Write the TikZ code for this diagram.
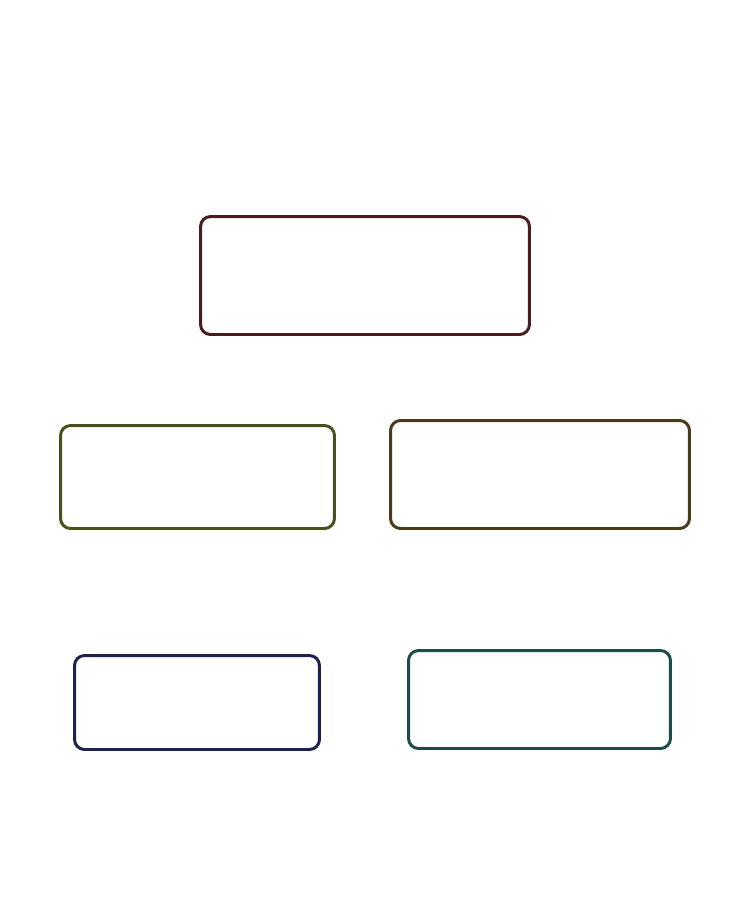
\documentclass[tikz,border=0pt]{standalone}
\usepackage{tikz}
\usetikzlibrary{positioning}
\definecolor{topred}{HTML}{4A1C1E}
\definecolor{midolive}{HTML}{4A4F1C}
\definecolor{midbrown}{HTML}{4A3A1C}
\definecolor{lownavy}{HTML}{1E2050}
\definecolor{lowteal}{HTML}{1E4D46}
\tikzset{
  box/.style={draw, rounded corners=0.2cm, line width=1.7pt, inner sep=0pt}
}

\begin{document}
\begin{tikzpicture}[x=0.02cm,y=-0.02cm]
\useasboundingbox (0,0) rectangle (750,920);
\draw(365,275.5) node[box, topred, minimum width=6.58cm, minimum height=2.36cm] (top) {};

\draw(197.5,477) node[box, midolive, minimum width=5.48cm, minimum height=2.06cm] (midleft) {};
\draw(540,474.5) node[box, midbrown, minimum width=5.98cm, minimum height=2.16cm] (midright) {};

\draw(197,702.5) node[box, lownavy, minimum width=4.9cm, minimum height=1.88cm] (lowleft) {};
\draw(539.5,699.5) node[box, lowteal, minimum width=5.24cm, minimum height=1.96cm] (lowright) {};
\end{tikzpicture}
\end{document}
